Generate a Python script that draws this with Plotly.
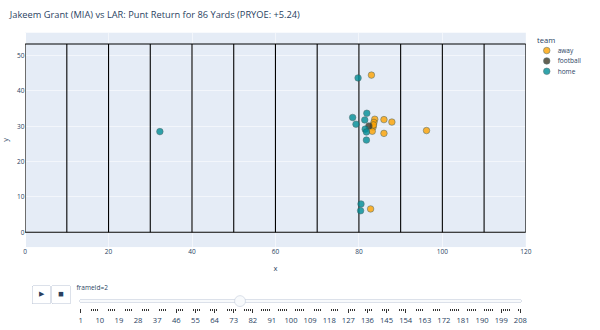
import plotly.graph_objects as go

# ---------------- data ----------------
title_text = "Jakeem Grant (MIA) vs LAR: Punt Return for 86 Yards (PRYOE: +5.24)"
teams = ["away", "football", "home"]

away_x = [83.0, 82.8, 96.2, 86.0, 87.9, 86.0, 83.8, 83.6, 83.4, 83.2, 83.5]
away_y = [44.5, 6.6, 28.8, 31.9, 31.2, 28.0, 32.0, 31.1, 29.8, 28.6, 30.4]

football_x = [82.4]
football_y = [30.1]

home_x = [32.3, 79.8, 81.9, 78.5, 79.3, 81.4, 81.5, 81.8, 81.8, 80.5, 80.4]
home_y = [28.5, 43.7, 33.7, 32.5, 30.6, 31.8, 29.2, 28.4, 26.1, 8.0, 6.1]

frame_ids = list(range(1, 209))
shown_frame = 2
slider_position_step = 76
yard_lines = [0, 10, 20, 30, 40, 50, 60, 70, 80, 90, 100, 110, 120]
field_length = 120
field_width = 53.3

# ---------------- styles ----------------
team_colors = {"away": "#FFA300", "football": "#3F3A28", "home": "#008E97"}
series = {
    "away": (away_x, away_y),
    "football": (football_x, football_y),
    "home": (home_x, home_y),
}

traces = []
for t in teams:
    xs, ys = series[t]
    traces.append(go.Scatter(
        x=xs, y=ys, mode="markers", name=t, legendgroup=t,
        marker=dict(color=team_colors[t], size=12, opacity=0.8,
                    line=dict(width=1, color="DarkSlateGrey")),
        hovertemplate="team=" + t + "<br>x=%{x}<br>y=%{y}<extra></extra>",
    ))

fig = go.Figure(data=traces, frames=[go.Frame(name=str(shown_frame), data=traces)])

shapes = []
for xl in yard_lines:
    shapes.append(dict(type="line", xref="x", yref="y", x0=xl, x1=xl, y0=0, y1=field_width,
                       line=dict(color="black", width=2), layer="between"))
for yl in [0, field_width]:
    shapes.append(dict(type="line", xref="x", yref="y", x0=0, x1=field_length, y0=yl, y1=yl,
                       line=dict(color="black", width=2), layer="between"))

anim_args = {"frame": {"duration": 0, "redraw": False}, "mode": "immediate",
             "fromcurrent": True, "transition": {"duration": 0, "easing": "linear"}}
steps = [dict(args=[[str(f)], anim_args], label=str(f), method="animate") for f in frame_ids]

fig.update_layout(
    template="plotly",
    width=1100, height=605,
    title=dict(text=title_text, x=0.0164, xanchor="left", y=0.956, yanchor="middle"),
    margin=dict(l=46, r=136, t=60, b=140),
    legend=dict(title=dict(text="team"), tracegroupgap=0),
    xaxis=dict(title=dict(text="x", standoff=18), range=[0, field_length], dtick=20),
    yaxis=dict(title=dict(text="y", standoff=22), range=[-4.2, 56.5], dtick=10, automargin=False),
    shapes=shapes,
    updatemenus=[dict(
        type="buttons", direction="left", showactive=False,
        pad=dict(r=10, t=70), x=0.1, xanchor="right", y=0, yanchor="top",
        buttons=[
            dict(label="&#9654;", method="animate",
                 args=[None, {"frame": {"duration": 500, "redraw": False}, "mode": "immediate",
                              "fromcurrent": True, "transition": {"duration": 500, "easing": "linear"}}]),
            dict(label="&#9724;", method="animate",
                 args=[[None], {"frame": {"duration": 0, "redraw": False}, "mode": "immediate",
                                "fromcurrent": True, "transition": {"duration": 0, "easing": "linear"}}]),
        ],
    )],
    sliders=[dict(
        active=frame_ids.index(slider_position_step), len=0.9, x=0.1, xanchor="left", y=0, yanchor="top",
        pad=dict(b=0, t=89), currentvalue=dict(visible=False), font=dict(size=14),
        steps=steps,
    )],
    annotations=[dict(text="frameId=" + str(shown_frame), xref="paper", yref="paper",
                      x=0.1, y=-0.186, xanchor="left", yanchor="middle", showarrow=False,
                      font=dict(size=12))],
)

fig.write_html("out.html", config={"responsive": False}, auto_play=False,
               post_script="document.body.style.margin='0';document.body.style.zoom=String(600/1100);")
